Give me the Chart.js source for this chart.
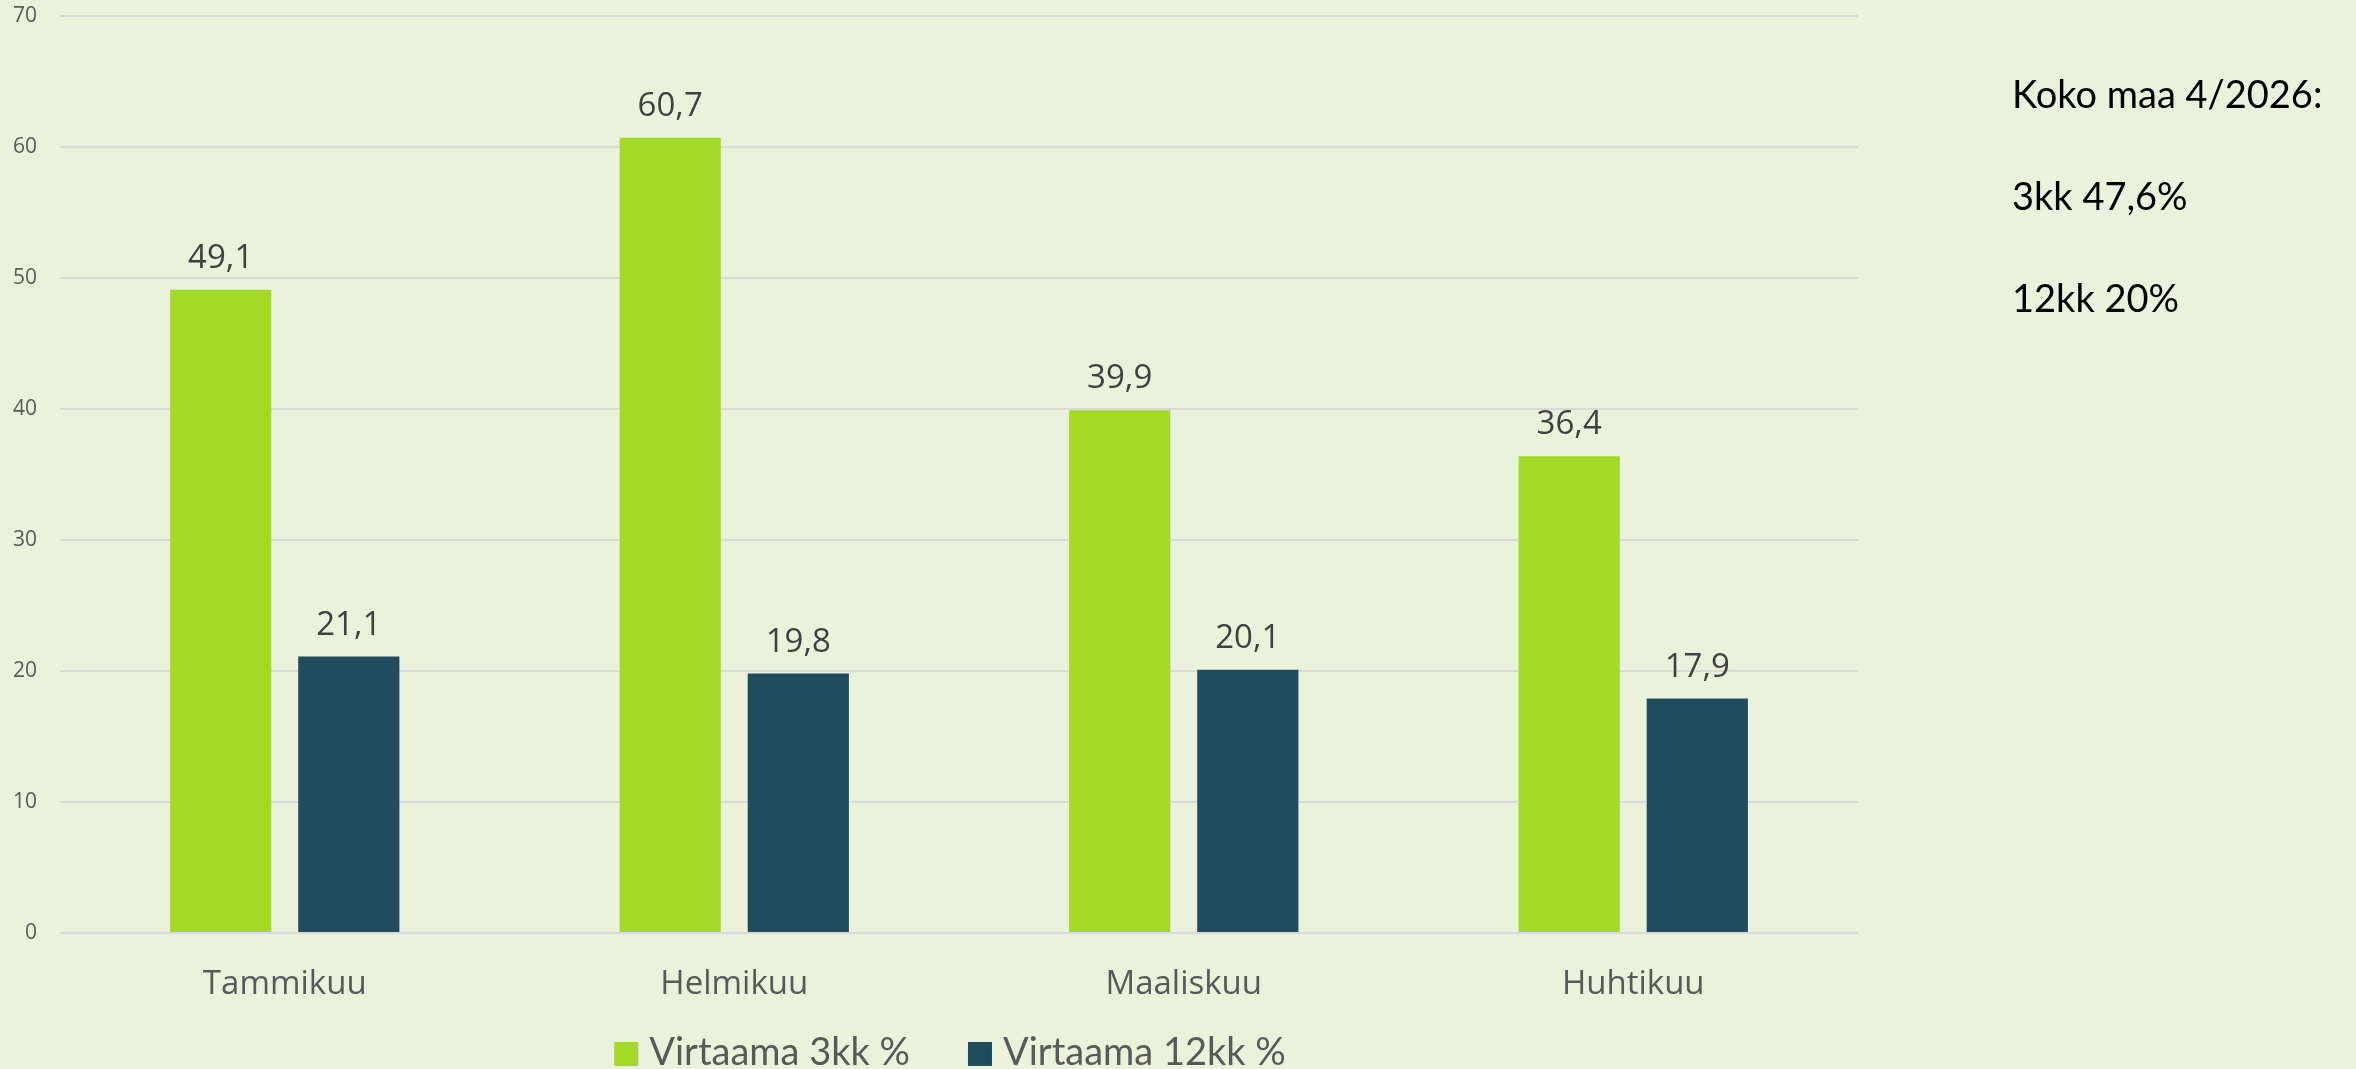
<!DOCTYPE html>
<html lang="fi">
<head>
<meta charset="utf-8">
<title>Virtaama</title>
<script src="https://cdn.jsdelivr.net/npm/chart.js@4.4.1/dist/chart.umd.min.js"></script>
<style>
  html, body { margin: 0; padding: 0; background: #ebf2dc; overflow: hidden; }
  #wrap { position: relative; width: 2356px; height: 1069px; }
  #chart { position: absolute; left: 0; top: 0; }
  #note {
    position: absolute; left: 2012px; top: 42px;
    font-family: Lato, 'Open Sans', sans-serif; font-size: 38px;
    line-height: 102px; color: #000;
  }
</style>
</head>
<body>
<div id="wrap">
  <canvas id="chart" width="2356" height="1069"></canvas>
  <div id="note">
    <div>Koko maa 4/2026:</div>
    <div>3kk 47,6%</div>
    <div>12kk 20%</div>
  </div>
</div>
<script>
  // ─── Data ────────────────────────────────────────────
  const months = ['Tammikuu', 'Helmikuu', 'Maaliskuu', 'Huhtikuu'];
  const flow3kk = [49.1, 60.7, 39.9, 36.4];
  const flow12kk = [21.1, 19.8, 20.1, 17.9];
  const seriesNames = ['Virtaama 3kk %', 'Virtaama 12kk %'];

  const GREEN = '#a4d927';
  const NAVY = '#234b5e';
  const GRID = '#d9d9d9';

  const fmt = v => v.toFixed(1).replace('.', ',');

  // value labels above each bar
  const barLabels = {
    id: 'barLabels',
    afterDatasetsDraw(chart) {
      const ctx = chart.ctx;
      ctx.save();
      ctx.font = '33px "Open Sans"';
      ctx.fillStyle = '#404040';
      ctx.textAlign = 'center';
      ctx.textBaseline = 'alphabetic';
      chart.data.datasets.forEach((ds, i) => {
        chart.getDatasetMeta(i).data.forEach((bar, j) => {
          ctx.fillText(fmt(ds.data[j]), bar.x, bar.y - 22);
        });
      });
      ctx.restore();
    }
  };

  // legend drawn below the axis labels
  const bottomLegend = {
    id: 'bottomLegend',
    afterDraw(chart) {
      const ctx = chart.ctx;
      const box = 24, gap = 11, itemGap = 58;
      ctx.save();
      ctx.font = '38px Lato';
      const widths = chart.data.datasets.map(ds => box + gap + ctx.measureText(ds.label).width);
      const total = widths.reduce((a, b) => a + b, 0) + itemGap * (widths.length - 1);
      let x = 950 - total / 2;
      const baseline = 1065;
      chart.data.datasets.forEach((ds, i) => {
        ctx.fillStyle = ds.backgroundColor;
        ctx.fillRect(x, baseline - 23, box, box);
        ctx.fillStyle = '#595959';
        ctx.textAlign = 'left';
        ctx.textBaseline = 'alphabetic';
        ctx.fillText(ds.label, x + box + gap, baseline);
        x += widths[i] + itemGap;
      });
      ctx.restore();
    }
  };

  new Chart(document.getElementById('chart'), {
    type: 'bar',
    data: {
      labels: months,
      datasets: [
        { label: seriesNames[0], data: flow3kk, backgroundColor: GREEN },
        { label: seriesNames[1], data: flow12kk, backgroundColor: NAVY }
      ]
    },
    options: {
      responsive: false,
      animation: false,
      categoryPercentage: 0.57,
      barPercentage: 0.79,
      layout: { padding: { top: 16, right: 498, left: 0, bottom: 0 } },
      plugins: {
        legend: { display: false },
        tooltip: { enabled: false }
      },
      scales: {
        x: {
          grid: { display: false, drawTicks: false },
          border: { display: false },
          ticks: {
            color: '#595959',
            font: { family: 'Open Sans', size: 33 },
            padding: 32,
            maxRotation: 0
          },
          afterFit: s => { s.height = 136; }
        },
        y: {
          min: 0,
          max: 70,
          grid: { color: GRID, lineWidth: 2, drawTicks: false },
          border: { display: false },
          ticks: {
            stepSize: 10,
            color: '#595959',
            font: { family: 'Open Sans', size: 21 },
            padding: 23
          },
          afterFit: s => { s.width = 60; s.paddingTop = 0; s.paddingBottom = 0; }
        }
      }
    },
    plugins: [barLabels, bottomLegend]
  });
</script>
</body>
</html>
